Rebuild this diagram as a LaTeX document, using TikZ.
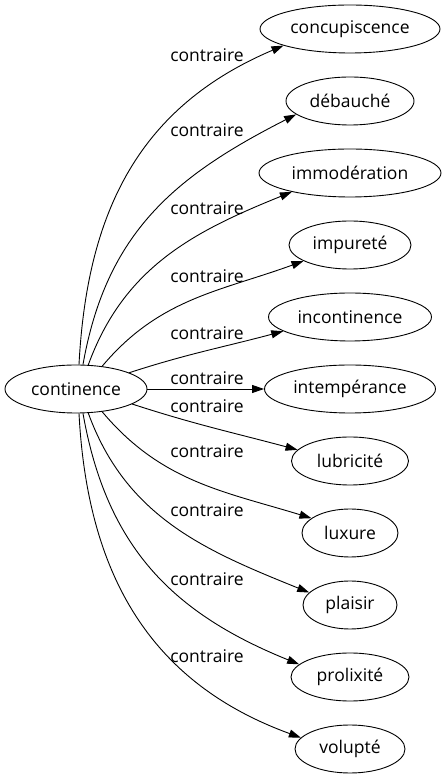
\documentclass[tikz,border=0pt]{standalone}
\usepackage{fontspec}
\setmainfont{Open Sans}
\usetikzlibrary{shapes.geometric,arrows.meta}

\begin{document}
\begin{tikzpicture}[x=1pt, y=1pt, line width=0.9pt,
  every node/.style={font=\fontsize{17.5}{20}\selectfont},
  word/.style={draw, ellipse, inner sep=0pt, minimum height=48pt},
  rel/.style={-{Triangle[length=12pt,width=8pt]}},
  lbl/.style={inner sep=0pt}]
  \useasboundingbox (0,0) rectangle (446,779);
  % words
  \node[word, minimum width=142pt] (cont)     at (76,390)  {continence};
  \node[word, minimum width=180pt] (concup)   at (350,750) {concupiscence};
  \node[word, minimum width=128pt] (debauche) at (350,678) {débauché};
  \node[word, minimum width=182pt] (immod)    at (350,606) {immodération};
  \node[word, minimum width=122pt] (impur)    at (350,534) {impureté};
  \node[word, minimum width=163pt] (incont)   at (350,462) {incontinence};
  \node[word, minimum width=171pt] (intemp)   at (350,390) {intempérance};
  \node[word, minimum width=117pt] (lubric)   at (350,318) {lubricité};
  \node[word, minimum width=96pt]  (luxure)   at (350,246) {luxure};
  \node[word, minimum width=94pt]  (plaisir)  at (350,174) {plaisir};
  \node[word, minimum width=118pt] (prolix)   at (350,102) {prolixité};
  \node[word, minimum width=110pt] (volupte)  at (350,30)  {volupté};
  % labels
  \node[lbl] (l1)  at (207,724) {contraire};
  \node[lbl] (l2)  at (207,649) {contraire};
  \node[lbl] (l3)  at (207,571) {contraire};
  \node[lbl] (l4)  at (207,503) {contraire};
  \node[lbl] (l5)  at (207,446) {contraire};
  \node[lbl] (l6)  at (207,401) {contraire};
  \node[lbl] (l7)  at (207,373) {contraire};
  \node[lbl] (l8)  at (207,328) {contraire};
  \node[lbl] (l9)  at (207,269) {contraire};
  \node[lbl] (l10) at (207,200) {contraire};
  \node[lbl] (l11) at (207,123) {contraire};
  % edges
  \draw[rel] (cont.83)  to[out=87,in=203,looseness=1.05]  (concup.194);
  \draw[rel] (cont.74)  to[out=80,in=207,looseness=1.05]  (debauche.194);
  \draw[rel] (cont.63)  to[out=70,in=202]  (immod.198);
  \draw[rel] (cont.41)  to[out=50,in=200]  (impur.199);
  \draw[rel] (cont.17)  to[out=18,in=195]  (incont.192);
  \draw[rel] (cont.0)   --                 (intemp.180);
  \draw[rel] (cont.-15) to[out=-18,in=165] (lubric.168);
  \draw[rel] (cont.-41) to[out=-50,in=163] (luxure.159);
  \draw[rel] (cont.-63) to[out=-70,in=158] (plaisir.163);
  \draw[rel] (cont.-74) to[out=-80,in=158,looseness=1.05] (prolix.166);
  \draw[rel] (cont.-83) to[out=-87,in=160,looseness=1.05] (volupte.167);
\end{tikzpicture}
\end{document}
